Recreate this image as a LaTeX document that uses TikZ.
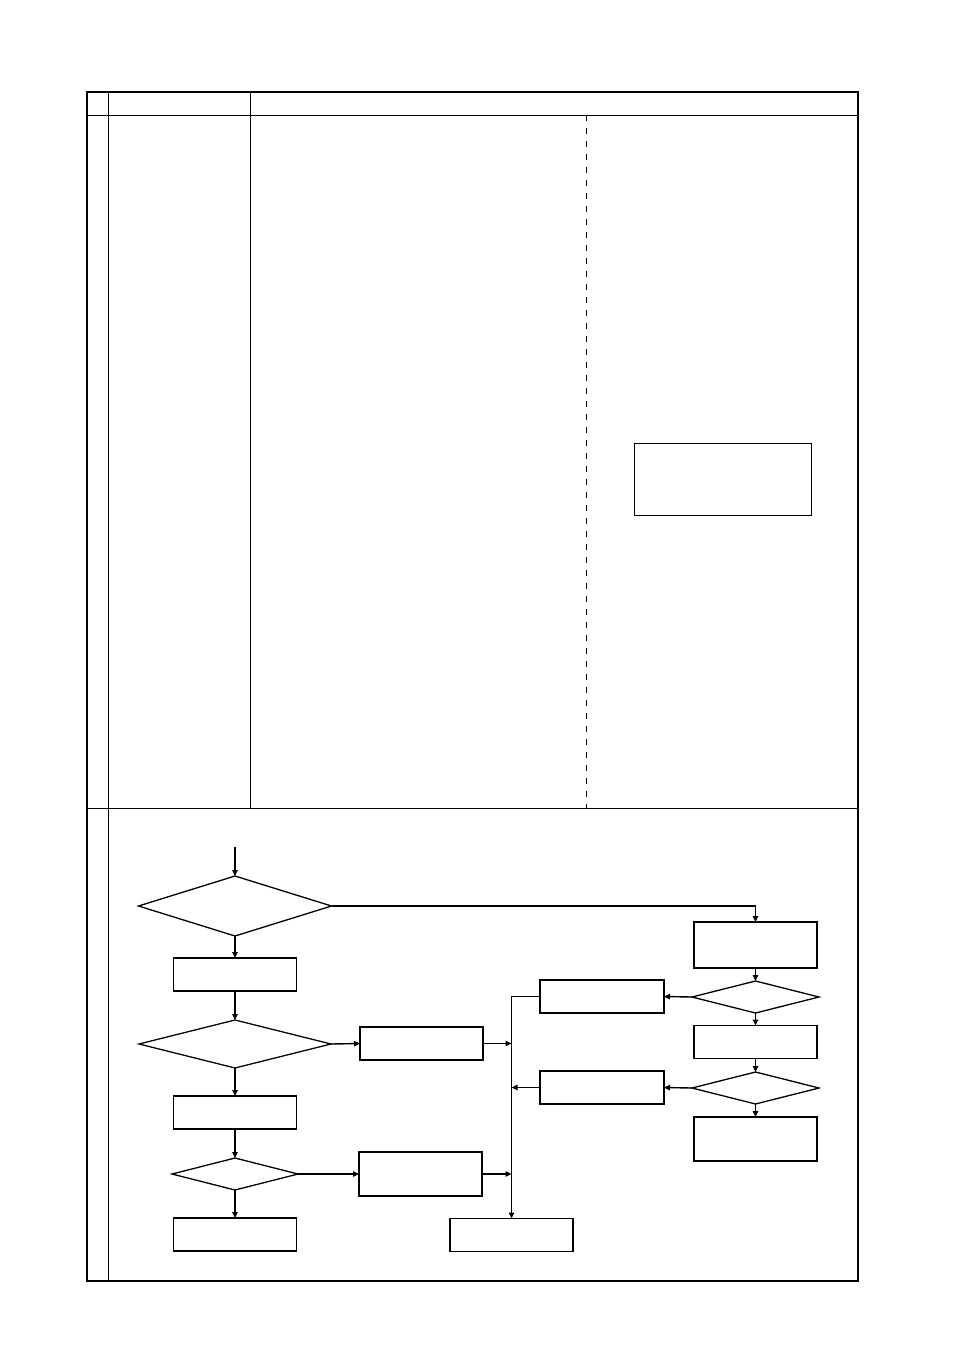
\documentclass[tikz,border=0pt]{standalone}
\usepackage{tikz}
\usetikzlibrary{arrows.meta,shapes.geometric,positioning}
\tikzset{
  procbox/.style={draw, line width=1.3pt, minimum width=123pt, minimum height=33pt, inner sep=0pt, outer sep=0pt},
  testbox/.style={draw, diamond, line width=1.3pt, inner sep=0pt, outer sep=0pt},
  flow/.style={line width=1.4pt, -{Triangle[length=6pt,width=5.5pt]}},
  frameline/.style={line width=2pt},
  gridline/.style={line width=1pt}
}

\begin{document}
\begin{tikzpicture}[x=1pt,y=-1pt]
\useasboundingbox (0,0) rectangle (954,1350);

% table
\draw[gridline] (108,92)--(108,1281);
\draw[gridline] (250,92)--(250,808);
\draw[gridline] (87,115)--(858,115);
\draw[gridline] (87,808)--(858,808);
\draw[line width=1pt, dash pattern=on 6pt off 7pt] (586,115)--(586,808);
\draw[line width=1pt] (634,443) rectangle (811,515);
\draw[frameline] (87,92) rectangle (858,1281);

% flow chart
\coordinate (start) at (235,847);
\node[testbox, minimum width=193pt, minimum height=60pt] (d1) at (235,906) {};
\node[procbox] (b1) at (235,974.5) {};
\node[testbox, minimum width=192pt, minimum height=48pt] (d2) at (235,1044) {};
\node[procbox] (b2) at (421.5,1043.5) {};
\node[procbox] (b3) at (235,1112.5) {};
\node[testbox, minimum width=126pt, minimum height=32pt] (d3) at (235,1174) {};
\node[procbox, minimum height=44pt] (b4) at (420.5,1174) {};
\node[procbox] (b5) at (235,1234.5) {};
\node[procbox] (b6) at (511.5,1235) {};
\node[procbox, minimum height=46pt] (r1) at (755.5,945) {};
\node[testbox, minimum width=127pt, minimum height=32pt] (d4) at (755.5,997) {};
\node[procbox, minimum width=124pt] (b7) at (602,996.5) {};
\node[procbox] (r2) at (755.5,1042) {};
\node[testbox, minimum width=127pt, minimum height=32pt] (d5) at (755.5,1088) {};
\node[procbox, minimum width=124pt] (b8) at (602,1087.5) {};
\node[procbox, minimum height=44pt] (r3) at (755.5,1139) {};

\draw[flow] (start) -- (d1.north);
\draw[flow] (d1.east) -| (r1.north);
\draw[flow] (d1.south) -- (b1.north);
\draw[flow] (b1.south) -- (d2.north);
\draw[flow] (d2.east) -- (b2.west);
\draw[flow] (d2.south) -- (b3.north);
\draw[flow] (b3.south) -- (d3.north);
\draw[flow] (d3.east) -- (b4.west);
\draw[flow] (d3.south) -- (b5.north);

\draw[flow] (b7.west) -| (b6.north);
\draw[flow] (b2.east) -- (b2.east -| b6.north);
\draw[flow] (b4.east) -- (b4.east -| b6.north);
\draw[flow] (b8.west) -- (b8.west -| b6.north);

\draw[flow] (r1.south) -- (d4.north);
\draw[flow] (d4.west) -- (b7.east);
\draw[flow] (d4.south) -- (r2.north);
\draw[flow] (r2.south) -- (d5.north);
\draw[flow] (d5.west) -- (b8.east);
\draw[flow] (d5.south) -- (r3.north);
\end{tikzpicture}
\end{document}
